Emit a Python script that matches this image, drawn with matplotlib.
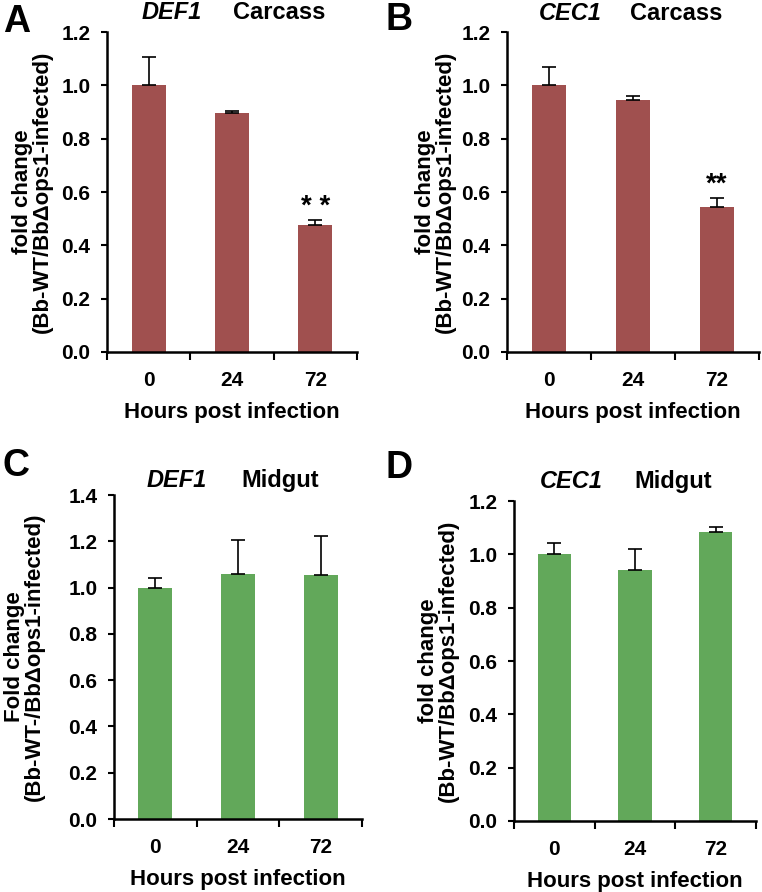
import matplotlib
matplotlib.use('Agg')
import matplotlib.pyplot as plt

plt.rcParams['font.family'] = ['Liberation Sans', 'DejaVu Sans']
plt.rcParams['font.weight'] = 'bold'

hours = ['0', '24', '72']

# panel A: DEF1 carcass
def1_carcass = [1.00, 0.898, 0.478]
def1_carcass_err = [0.107, 0.004, 0.018]
# panel B: CEC1 carcass
cec1_carcass = [1.00, 0.946, 0.543]
cec1_carcass_err = [0.068, 0.015, 0.036]
# panel C: DEF1 midgut
def1_midgut = [1.00, 1.058, 1.054]
def1_midgut_err = [0.042, 0.149, 0.170]
# panel D: CEC1 midgut
cec1_midgut = [1.00, 0.941, 1.083]
cec1_midgut_err = [0.041, 0.078, 0.021]

red = '#A0504F'
green = '#62A85A'

W, H = 762, 892
fig = plt.figure(figsize=(W / 100, H / 100), dpi=100)


def ftext(x, y, s, **kw):
    # place text by pixel position (baseline), measured from top-left
    fig.text(x / W, 1 - y / H, s, va='baseline', **kw)


def panel(rect, vals, errs, color, ymax, ylab, pad, stars=None, star_txt='**'):
    ax = fig.add_axes(rect)
    x = range(len(hours))
    ax.bar(x, vals, width=0.41, color=color, zorder=2)
    ax.errorbar(x, vals, yerr=[[0] * len(errs), errs], fmt='none',
                ecolor='black', elinewidth=1.2, capsize=5, capthick=1.2, zorder=3)
    ax.set_xlim(-0.5, 2.5)
    ax.set_ylim(0, ymax)
    n = int(round(ymax / 0.2)) + 1
    ax.set_yticks([i * 0.2 for i in range(n)])
    ax.set_yticklabels(['%.1f' % (i * 0.2) for i in range(n)])
    ax.set_xticks([-0.5, 0.5, 1.5, 2.5])
    ax.set_xticklabels([])
    ax.set_xticks([0, 1, 2], minor=True)
    ax.set_xticklabels(hours, minor=True)
    ax.tick_params(axis='x', which='minor', length=0, pad=14, labelsize=15)
    ax.tick_params(axis='x', which='major', direction='out', length=6, width=1.5)
    ax.tick_params(axis='y', direction='out', length=4, width=1.5, labelsize=15, pad=8)
    for s in ['top', 'right']:
        ax.spines[s].set_visible(False)
    for s in ['left', 'bottom']:
        ax.spines[s].set_linewidth(1.8)
    ax.set_xlabel('Hours post infection', fontsize=16, fontweight='bold', labelpad=8)
    ax.set_ylabel(ylab, fontsize=16, fontweight='bold', labelpad=pad, linespacing=0.9)
    if stars is not None:
        ax.text(2, stars, star_txt, fontsize=20, fontweight='bold',
                ha='center', va='center')
    return ax


lab1 = 'fold change\n(Bb-WT/BbΔops1-infected)'
lab2 = 'Fold change\n(Bb-WT-/BbΔops1-infected)'

panel([0.1404, 0.6054, 0.328, 0.3587], def1_carcass, def1_carcass_err, red, 1.2,
      lab1, 6, stars=0.545, star_txt='* *')
panel([0.6654, 0.6054, 0.3307, 0.3587], cec1_carcass, cec1_carcass_err, red, 1.2,
      lab1, 4, stars=0.628)
panel([0.1496, 0.0818, 0.3255, 0.3632], def1_midgut, def1_midgut_err, green, 1.4,
      lab2, 17)
panel([0.6745, 0.0796, 0.3176, 0.3587], cec1_midgut, cec1_midgut_err, green, 1.2,
      lab1, 7)

# panel letters
ftext(3, 32, 'A', fontsize=27, fontweight='bold')
ftext(386, 30, 'B', fontsize=27, fontweight='bold')
ftext(3, 476, 'C', fontsize=27, fontweight='bold')
ftext(386, 478, 'D', fontsize=27, fontweight='bold')

# panel titles
titles = [(172, 279, 19, 'DEF1', 'Carcass'), (570, 676, 20, 'CEC1', 'Carcass'),
          (177, 280, 487, 'DEF1', 'Midgut'), (571, 673, 488, 'CEC1', 'Midgut')]
for gx, tx, y, gene, tissue in titles:
    ftext(gx, y, gene, fontsize=17, fontweight='bold', fontstyle='italic', ha='center')
    ftext(tx, y, tissue, fontsize=17, fontweight='bold', ha='center')

fig.savefig('out.png', dpi=100)
